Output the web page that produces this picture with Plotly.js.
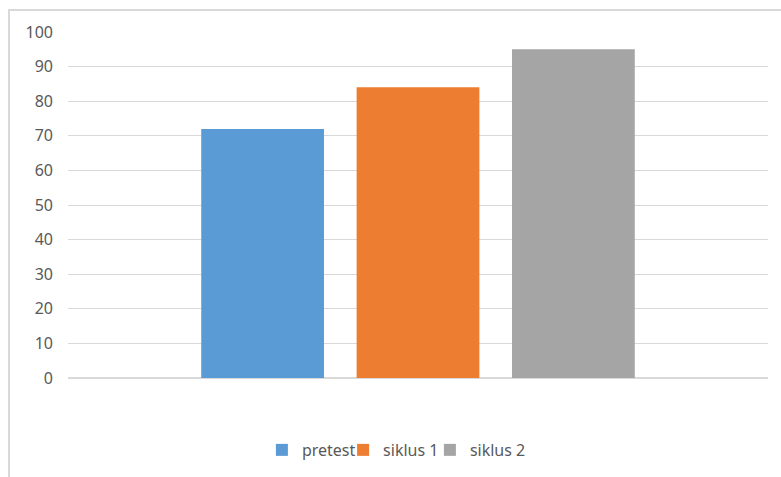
<!DOCTYPE html>
<html>
<head>
<meta charset="utf-8">
<script src="https://cdn.plot.ly/plotly-3.0.1.min.js"></script>
<style>
  html, body { margin: 0; padding: 0; background: #ffffff; }
  #wrap { position: relative; width: 781px; height: 477px; overflow: hidden; }
  #frame { position: absolute; left: 8px; top: 9px; width: 790px; height: 480px;
           border-left: 2px solid #d9d9d9; border-top: 2px solid #d9d9d9; pointer-events: none; }
  #chart { position: absolute; left: 0; top: 0; width: 781px; height: 477px; }
</style>
</head>
<body>
<div id="wrap">
  <div id="chart"></div>
  <div id="frame"></div>
</div>
<script>
const category = [""];
const seriesNames = ["pretest", "siklus 1", "siklus 2"];
const pretest = [72];
const siklus1 = [84];
const siklus2 = [95];
const colors = ["#5b9bd5", "#ed7d31", "#a5a5a5"];

const values = [pretest, siklus1, siklus2];
const legendIds = ["legend", "legend2", "legend3"];
const traces = seriesNames.map((name, i) => ({
  type: "bar",
  name: name,
  x: category,
  y: values[i],
  marker: { color: colors[i] },
  legend: legendIds[i],
  hoverinfo: "y"
}));

const legendX = [0.277, 0.393, 0.517];
function legendBox(x) {
  return {
    orientation: "h",
    x: x, xanchor: "left",
    y: -0.208, yanchor: "middle",
    font: { size: 16, color: "#595959" },
    itemwidth: 30,
    bgcolor: "rgba(0,0,0,0)"
  };
}

const layout = {
  width: 781,
  height: 477,
  margin: { l: 68, r: 13, t: 32, b: 99, autoexpand: false },
  paper_bgcolor: "#ffffff",
  plot_bgcolor: "#ffffff",
  font: { family: "Noto Sans, Open Sans, sans-serif", size: 16, color: "#595959" },
  barmode: "group",
  bargap: 0.334,
  bargroupgap: 0.21,
  showlegend: true,
  legend: legendBox(legendX[0]),
  legend2: legendBox(legendX[1]),
  legend3: legendBox(legendX[2]),
  xaxis: {
    showticklabels: false,
    showgrid: false,
    zeroline: false,
    showline: false,
    ticks: ""
  },
  yaxis: {
    range: [0, 100],
    tick0: 0,
    dtick: 10,
    showgrid: true,
    gridcolor: "#d9d9d9",
    gridwidth: 1,
    zeroline: true,
    zerolinecolor: "#d9d9d9",
    zerolinewidth: 2,
    showline: false,
    ticks: "",
    ticklabelstandoff: 14,
    tickfont: { size: 16, color: "#595959" }
  }
};

Plotly.newPlot("chart", traces, layout, { displayModeBar: false, staticPlot: true });
</script>
</body>
</html>
